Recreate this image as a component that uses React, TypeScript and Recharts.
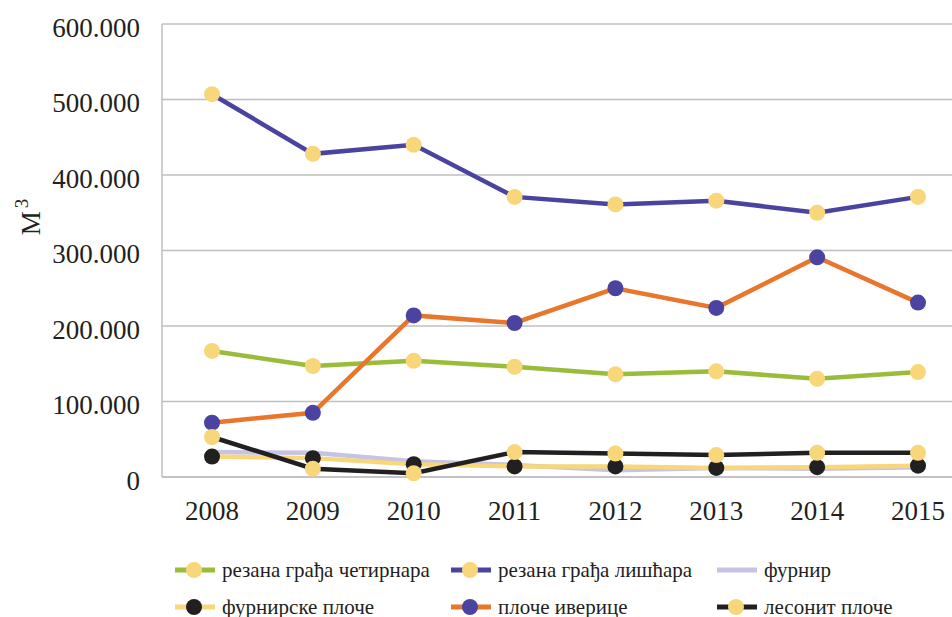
import React from "react";
import { CartesianGrid, Line, LineChart, XAxis, YAxis } from "recharts";

const years = ["2008", "2009", "2010", "2011", "2012", "2013", "2014", "2015"];

// m3
const cetinara = [167000, 147000, 154000, 146000, 136000, 140000, 130000, 139000];
const liscara = [507000, 428000, 440000, 371000, 361000, 366000, 350000, 371000];
const furnir = [33000, 32000, 21000, 16000, 9000, 12000, 11000, 13000];
const furnirskePloce = [27000, 25000, 17000, 14000, 14000, 12000, 13000, 15000];
const ploceIverice = [72000, 85000, 214000, 204000, 250000, 224000, 291000, 231000];
const lesonitPloce = [53000, 11000, 5000, 33000, 31000, 29000, 32000, 32000];

const yTicks = [0, 100000, 200000, 300000, 400000, 500000, 600000];

const colors = {
  green: "#9bbb3b",
  indigo: "#4a44a0",
  lavender: "#c6c3e4",
  yellow: "#f8d67a",
  orange: "#e8762d",
  black: "#221f20",
  grid: "#bfbfc3",
  text: "#231f20",
};

const series = [
  { key: "cetinara", name: "резана грађа четирнара", values: cetinara, line: colors.green, marker: colors.yellow },
  { key: "liscara", name: "резана грађа лишћара", values: liscara, line: colors.indigo, marker: colors.yellow },
  { key: "furnir", name: "фурнир", values: furnir, line: colors.lavender, marker: null },
  { key: "furnirske", name: "фурнирске плоче", values: furnirskePloce, line: colors.yellow, marker: colors.black },
  { key: "iverice", name: "плоче иверице", values: ploceIverice, line: colors.orange, marker: colors.indigo },
  { key: "lesonit", name: "лесонит плоче", values: lesonitPloce, line: colors.black, marker: colors.yellow },
];

const data = years.map((year, i) => {
  const row: Record<string, string | number> = { year };
  for (const s of series) row[s.key] = s.values[i];
  return row;
});

const serif = "Liberation Serif, Tinos, Times New Roman, Times, DejaVu Serif, serif";
const legendCols = [175, 451, 717];
const legendRows = [570, 607];

const formatTick = (v: number) => (v === 0 ? "0" : `${v / 1000}.000`);

function UnitLabel() {
  return (
    <text transform="rotate(-90, 31, 217)" x={31} y={217} textAnchor="middle" dominantBaseline="central" fontFamily={serif} fontSize={27} fill={colors.text}>
      М<tspan fontSize={19} dy={-10} dx={3}>3</tspan>
    </text>
  );
}

function LegendIcon({ line, marker }: { line: string; marker: string | null }) {
  return (
    <svg width={40} height={18} style={{ display: "block" }}>
      <line x1={0} y1={9} x2={40} y2={9} stroke={line} strokeWidth={5} />
      {marker && <circle cx={19} cy={9} r={8} fill={marker} />}
    </svg>
  );
}

export default function App() {
  return (
    <div style={{ position: "absolute", left: 0, top: 0, width: 952, height: 617, overflow: "hidden", background: "#fff" }}>
      <LineChart width={975} height={617} data={data} margin={{ top: 24, right: 7, bottom: 0, left: 0 }}>
        <CartesianGrid vertical={false} stroke={colors.grid} strokeWidth={1.5} />
        <XAxis
          dataKey="year"
          height={140}
          padding={{ left: 50, right: 50 }}
          axisLine={{ stroke: colors.grid, strokeWidth: 1.5 }}
          tickLine={false}
          tickSize={0}
          tickMargin={24}
          tick={{ fontFamily: serif, fontSize: 27, fill: colors.text }}
        />
        <YAxis
          width={162}
          domain={[0, 600000]}
          ticks={yTicks}
          interval={0}
          tickFormatter={formatTick}
          axisLine={{ stroke: colors.grid, strokeWidth: 1.5 }}
          tickLine={false}
          tickSize={0}
          tickMargin={22}
          tick={{ fontFamily: serif, fontSize: 27, fill: colors.text, dy: 3 }}
          label={UnitLabel}
        />
        {series.map((s) => (
          <Line
            key={s.key}
            type="linear"
            dataKey={s.key}
            name={s.name}
            stroke={s.line}
            strokeWidth={4.5}
            dot={s.marker ? { r: 8, fill: s.marker, stroke: s.marker, strokeWidth: 0 } : false}
            activeDot={false}
            isAnimationActive={false}
          />
        ))}
      </LineChart>
      {series.map((s, i) => (
        <div
          key={s.key}
          style={{
            position: "absolute",
            left: legendCols[i % 3],
            top: legendRows[Math.floor(i / 3)] - 12,
            height: 24,
            display: "flex",
            alignItems: "center",
            gap: 7,
            fontFamily: serif,
            fontSize: 21,
            color: colors.text,
            whiteSpace: "nowrap",
          }}
        >
          <LegendIcon line={s.line} marker={s.marker} />
          <span>{s.name}</span>
        </div>
      ))}
    </div>
  );
}
